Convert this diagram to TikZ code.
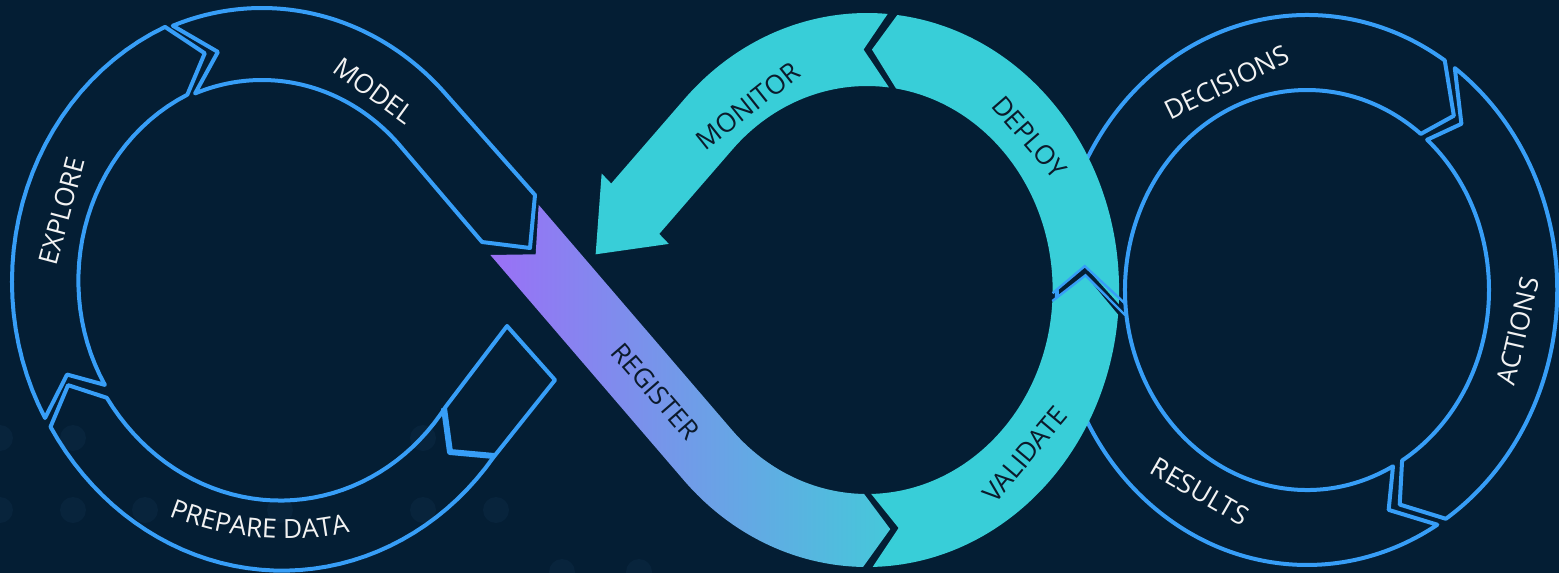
\documentclass[tikz,border=0pt]{standalone}
\usepackage{fontspec}
\setmainfont{Open Sans}
\usetikzlibrary{decorations.text}
\definecolor{bg}{HTML}{041E34}
\definecolor{dotc}{HTML}{08243C}
\definecolor{ring}{HTML}{379EF7}
\definecolor{cyanf}{HTML}{38CED8}
\definecolor{regA}{HTML}{9A70F6}
\definecolor{regB}{HTML}{45C8DA}
\definecolor{darktxt}{HTML}{0B1A2B}
\definecolor{lighttxt}{HTML}{F2F2F2}
\newcommand\lblsize{\fontsize{13.2}{13.2}\selectfont}
\tikzset{
  outl/.style={draw=ring, line width=2pt, line join=round},
  lbl/.style={font=\lblsize, inner sep=0pt},
  lightlbl/.style={lbl, text=lighttxt},
  darklbl/.style={lbl, text=darktxt},
  gapline/.style={draw=ring, line width=1.2pt, line join=miter},
  bgdot/.style={fill=dotc},
  Lloop/.style={shift={(262,288)}, xscale=0.91, yscale=-1},
  Ploop/.style={shift={(287,275)}, xscale=0.91, yscale=-1},
  Cloop/.style={shift={(867,290)}, xscale=0.91, yscale=-1},
  Rloop/.style={shift={(1307,290)}, xscale=0.91, yscale=-1},
}
\begin{document}
\begin{tikzpicture}[x=0.5pt,y=-0.5pt]
\fill[bg] (0,0) rectangle (1559,573);
\useasboundingbox (0,0) rectangle (1559,573);
% faint background dots
\foreach \x/\y in {0/438,73/438,423/438,0/510,73/510,145/510,280/510,423/510,496/510,562/572,639/572}
  \fill[bgdot] (\x,\y) circle[radius=13];
% ---------- left loop (outlined) ----------
\begin{scope}[Lloop]
  % EXPLORE
  \draw[outl] plot[domain=208.6:112.2, samples=30, variable=\t] ({\t}:{271.6+(208.6-\t)*0.108})
     -- (105:243)
     -- plot[domain=113:209.3, samples=30, variable=\t] ({\t}:{210-(\t-113)*0.1246})
     -- (202:231) -- cycle;
  % MODEL
  \draw[outl] (110.5:280) arc[start angle=110.5, end angle=43.3, radius=280]
     -- (300,93) -- (294.5,40) -- (241.8,46) -- (43.3:208)
     arc[start angle=43.3, end angle=110.7, radius=208] -- (101.6:241) -- cycle;
\end{scope}
% PREPARE DATA
\begin{scope}[Ploop]
  \draw[outl] plot[domain=210.3:321.2, samples=40, variable=\t] ({\t}:{301-(\t-210.3)*0.09})
     -- (294.5,-105) -- (241.8,-51)
     -- plot[domain=323:211.8, samples=40, variable=\t] ({\t}:{233-(\t-212)*0.13})
     -- (204.6:264.6) -- cycle;
\end{scope}
\draw[outl, line width=3pt] (444,408) -- (450,452) -- (494,456);
% ---------- right ring (outlined) ----------
\begin{scope}[Rloop]
  % RESULTS + DECISIONS
  \draw[outl] (301.4:275) -- (292.2:237.5) -- (298.2:200)
     arc[start angle=298.2, end angle=51.3, radius=200]
     -- (47.2:237.5) -- (56.6:275)
     arc[start angle=56.6, end angle=301.4, radius=275] -- cycle;
  % ACTIONS
  \draw[outl] (53.8:275) arc[start angle=53.8, end angle=-56.3, radius=275]
     -- (-64.6:237.5) -- (-58.5:200)
     arc[start angle=-58.5, end angle=48.7, radius=200] -- (44.4:237.5) -- cycle;
\end{scope}
% ---------- centre loop (filled) ----------
\begin{scope}[Cloop]
  % VALIDATE
  \fill[cyanf] (271.3:277) arc[start angle=271.3, end angle=354.9, radius=277] -- (3.5:240.5)
     -- (356.9:204) arc[start angle=356.9, end angle=271.3, radius=204] -- (278.3:240.5) -- cycle;
  % DEPLOY
  \fill[cyanf] (-2.9:277) arc[start angle=-2.9, end angle=83.1, radius=277] -- (88.7:240.5)
     -- (81:204) arc[start angle=81, end angle=-0.9, radius=204] -- (5.7:240.5) -- cycle;
  % MONITOR arrow
  \fill[cyanf] (85.3:277) arc[start angle=85.3, end angle=136.4, radius=277]
     -- (-281.1,106.5) -- (-291.6,116.5) -- (-298.2,35.7) -- (-217.8,46.1) -- (-228.3,56.1)
     -- (136.4:204) arc[start angle=136.4, end angle=83.2, radius=204] -- (90.9:240.5) -- cycle;
  % REGISTER
  \shade[left color=regA, right color=regB] (-360.8,85.1) -- (-364.1,35.7) -- (-413.9,35)
     -- (223.3:277) arc[start angle=223.3, end angle=269.1, radius=277] -- (276.1:240.5)
     -- (269.1:204) arc[start angle=269.1, end angle=223.3, radius=204] -- cycle;
  % blue-edged gap between VALIDATE and DEPLOY
  \draw[gapline] (-5.1:285) -- (3.5:240.5) -- (-3.1:204);
  \draw[gapline] (-2.9:285) -- (5.7:240.5) -- (-0.9:204);
\end{scope}
% ---------- labels ----------
\node[lightlbl, rotate=75] (explore) at (61.6,211) {EXPLORE};
\node[lightlbl, rotate=-36] (model) at (374,90.5) {MODEL};
\node[darklbl, rotate=38.5] (monitor) at (748,106) {MONITOR};
\node[darklbl, rotate=-49] (deploy) at (1029.5,137) {DEPLOY};
\node[darklbl, rotate=50] (validate) at (1025,454.5) {VALIDATE};
\node[darklbl, rotate=-49] (register) at (655.5,391.5) {REGISTER};
\node[lightlbl, rotate=26] (decisions) at (1227,82.5) {DECISIONS};
\node[lightlbl, rotate=77] (actions) at (1518,331) {ACTIONS};
\node[lightlbl, rotate=-30] (results) at (1200,491.5) {RESULTS};
\path[decorate, decoration={text along path, text={|\lblsize|PREPARE DATA}, text align=center, text color=lighttxt}]
  plot[smooth] coordinates {(110,486) (168,516) (220,532) (270,538) (320,537) (370,526) (410,505)};
\end{tikzpicture}
\end{document}
